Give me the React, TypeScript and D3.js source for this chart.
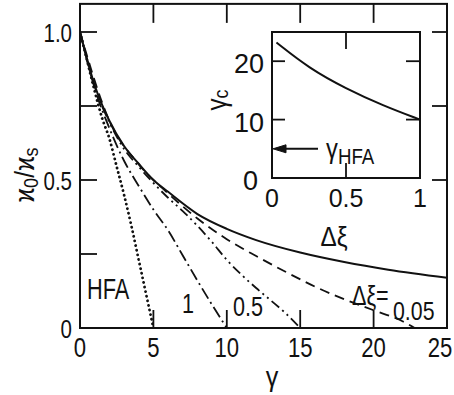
import React from "react";
import * as d3 from "d3";

// ---- data ----
const xTickValues = [0, 5, 10, 15, 20, 25];
const yTickValues = [0, 0.5, 1.0];
const yTickLabels = ["0", "0.5", "1.0"];
const yMinorTicks = [0.25, 0.75];

// solid curve (Δξ -> 0)
const solidGamma = [0, 1, 2, 3, 4, 5, 6, 8, 10, 12, 15, 18, 21, 25];
const solidRatio = [1, 0.82, 0.7, 0.615, 0.555, 0.5, 0.46, 0.385, 0.335, 0.297, 0.255, 0.223, 0.197, 0.17];

// Δξ = 0.05 (dashed)
const d005Gamma = [0, 2, 4, 6, 8, 10, 12, 14, 16, 18, 20, 22, 22.8];
const d005Ratio = [1, 0.7, 0.553, 0.455, 0.37, 0.3, 0.243, 0.19, 0.14, 0.097, 0.06, 0.022, 0];

// Δξ = 0.5 (dash-dot-dot)
const d05Gamma = [0, 1, 2, 3, 4, 5, 6, 7, 8, 9, 10, 11, 12, 13, 14, 15];
const d05Ratio = [1, 0.815, 0.695, 0.605, 0.545, 0.49, 0.44, 0.395, 0.345, 0.29, 0.23, 0.18, 0.135, 0.093, 0.05, 0];

// Δξ = 1 (dash-dot)
const d1Gamma = [0, 1, 2, 3, 4, 5, 6, 7, 8, 9, 10];
const d1Ratio = [1, 0.81, 0.675, 0.565, 0.48, 0.4, 0.33, 0.245, 0.16, 0.078, 0];

// HFA (dotted)
const hfaGamma = [0, 0.5, 1, 1.5, 2, 2.5, 3, 3.5, 4, 4.5, 5];
const hfaRatio = [1, 0.9, 0.8, 0.71, 0.64, 0.545, 0.45, 0.345, 0.23, 0.115, 0];

// inset: γc vs Δξ
const insetDxi = [0.03, 0.25, 0.5, 0.75, 1];
const insetGammaC = [23.2, 18.8, 15.3, 12.4, 10];
const insetXTicks = [0, 0.5, 1];
const insetXTickLabels = ["0", "0.5", "1"];
const insetYTicks = [0, 10, 20];
const gammaHFA = 5;

const FONT = "'Liberation Sans', Arial, sans-serif";
const INK = "#111";

function T({
  x,
  y,
  size,
  sx = 0.8,
  anchor = "start",
  rotate = 0,
  children,
}: {
  x: number;
  y: number;
  size: number;
  sx?: number;
  anchor?: string;
  rotate?: number;
  children: React.ReactNode;
}) {
  return (
    <text
      transform={`translate(${x},${y}) rotate(${rotate}) scale(${sx},1)`}
      fontSize={size}
      textAnchor={anchor as any}
      fill={INK}
    >
      {children}
    </text>
  );
}

export default function App() {
  const x = d3.scaleLinear().domain([0, 25]).range([80, 447]);
  const y = d3.scaleLinear().domain([0, 1]).range([328, 32]);
  const yTop = y(1.095);

  const ix = d3.scaleLinear().domain([0, 1]).range([272, 420]);
  const iy = d3.scaleLinear().domain([0, 25]).range([178, 32]);

  const line = d3
    .line<[number, number]>()
    .x((d) => x(d[0]))
    .y((d) => y(d[1]))
    .curve(d3.curveMonotoneX);

  const zip = (a: number[], b: number[]) => a.map((v, i) => [v, b[i]] as [number, number]);

  const insetLine = d3
    .line<[number, number]>()
    .x((d) => ix(d[0]))
    .y((d) => iy(d[1]))
    .curve(d3.curveBasis);

  return (
    <svg
      width={454}
      height={395}
      style={{ position: "absolute", left: 0, top: 0, background: "#fff" }}
      fontFamily={FONT}
    >
      <rect x={0} y={0} width={454} height={395} fill="#fff" />
      <defs>
        <clipPath id="plotClip">
          <rect x={x(0)} y={yTop} width={x(25) - x(0)} height={y(0) - yTop} />
        </clipPath>
      </defs>

      {/* curves */}
      <g clipPath="url(#plotClip)" fill="none" stroke={INK}>
        <path d={line(zip(solidGamma, solidRatio)) || ""} strokeWidth={2} />
        <path d={line(zip(d005Gamma, d005Ratio)) || ""} strokeWidth={1.8} strokeDasharray="10 6" />
        <path d={line(zip(d05Gamma, d05Ratio)) || ""} strokeWidth={1.8} strokeDasharray="10 4 2 4 2 4" />
        <path d={line(zip(d1Gamma, d1Ratio)) || ""} strokeWidth={1.8} strokeDasharray="12 4 2 4" />
        <path
          d={line(zip(hfaGamma, hfaRatio)) || ""}
          strokeWidth={2.8}
          strokeDasharray="0.1 4.6"
          strokeLinecap="round"
        />
      </g>

      {/* frame */}
      <rect
        x={x(0)}
        y={yTop}
        width={x(25) - x(0)}
        height={y(0) - yTop}
        fill="none"
        stroke={INK}
        strokeWidth={2}
      />

      {/* bottom & top ticks */}
      {xTickValues.slice(1, -1).map((v) => (
        <g key={"xt" + v} stroke={INK} strokeWidth={1.8}>
          <line x1={x(v)} x2={x(v)} y1={y(0)} y2={y(0) - 18} />
          <line x1={x(v)} x2={x(v)} y1={yTop} y2={yTop + 19} />
        </g>
      ))}
      {/* left & right ticks */}
      {[...yTickValues.slice(1), ...yMinorTicks].map((v) => (
        <g key={"yt" + v} stroke={INK} strokeWidth={1.8}>
          <line x1={x(0)} x2={x(0) + 17} y1={y(v)} y2={y(v)} />
          {v >= 0.5 && <line x1={x(25)} x2={x(25) - 15} y1={y(v)} y2={y(v)} />}
        </g>
      ))}

      {/* tick labels */}
      {xTickValues.map((v) => (
        <T key={"xl" + v} x={v === 25 ? x(v) - 7 : x(v)} y={357} size={27} sx={0.82} anchor="middle">
          {v}
        </T>
      ))}
      {yTickValues.map((v, i) => (
        <T key={"yl" + v} x={72} y={y(v) + 10} size={25} sx={0.82} anchor="end">
          {yTickLabels[i]}
        </T>
      ))}

      {/* axis titles */}
      <T x={272} y={386} size={28} sx={0.9} anchor="middle">
        γ
      </T>
      <T x={34} y={175} size={27} sx={0.9} anchor="middle" rotate={-90}>
        ϰ<tspan fontSize={20} dy={4}>0</tspan>
        <tspan dy={-4}>/ϰ</tspan>
        <tspan fontSize={20} dy={4}>s</tspan>
      </T>

      {/* curve labels */}
      <T x={87} y={299} size={29} sx={0.75}>
        HFA
      </T>
      <T x={182} y={313} size={27} sx={0.8}>
        1
      </T>
      <T x={233} y={316} size={27} sx={0.8}>
        0.5
      </T>
      <T x={352} y={305} size={27} sx={0.8}>
        Δξ=
      </T>
      <T x={393} y={320} size={26} sx={0.82}>
        0.05
      </T>

      {/* inset */}
      <rect
        x={ix(0)}
        y={iy(25)}
        width={ix(1) - ix(0)}
        height={iy(0) - iy(25)}
        fill="#fff"
        stroke={INK}
        strokeWidth={2}
      />
      <path d={insetLine(zip(insetDxi, insetGammaC)) || ""} fill="none" stroke={INK} strokeWidth={2} />
      {insetYTicks.slice(1).map((v) => (
        <g key={"iyt" + v} stroke={INK} strokeWidth={1.8}>
          <line x1={ix(0)} x2={ix(0) + 13} y1={iy(v)} y2={iy(v)} />
          <line x1={ix(1)} x2={ix(1) - 14} y1={iy(v)} y2={iy(v)} />
        </g>
      ))}
      <g stroke={INK} strokeWidth={1.8}>
        <line x1={ix(0.5)} x2={ix(0.5)} y1={iy(25)} y2={iy(25) + 17} />
        <line x1={ix(0.5)} x2={ix(0.5)} y1={iy(0)} y2={iy(0) - 15} />
      </g>
      {insetYTicks.map((v) => (
        <T key={"iyl" + v} x={v === 0 ? 258 : 264} y={iy(v) + 12} size={27} sx={1} anchor="end">
          {v}
        </T>
      ))}
      {insetXTicks.map((v, i) => (
        <T key={"ixl" + v} x={ix(v)} y={207} size={25} sx={1} anchor="middle">
          {insetXTickLabels[i]}
        </T>
      ))}
      <T x={334} y={246} size={27} sx={0.9} anchor="middle">
        Δξ
      </T>
      <T x={226} y={100} size={27} sx={0.9} anchor="middle" rotate={-90}>
        γ<tspan fontSize={20} dy={2}>c</tspan>
      </T>

      {/* γ_HFA arrow */}
      <line x1={318} x2={ix(0) + 10} y1={iy(gammaHFA)} y2={iy(gammaHFA)} stroke={INK} strokeWidth={2} />
      <path d={`M${ix(0) + 1},${iy(gammaHFA)} l13,-4 l0,8 z`} fill={INK} stroke={INK} />
      <T x={326} y={158} size={28} sx={0.85}>
        γ<tspan fontSize={22} dy={6}>HFA</tspan>
      </T>
    </svg>
  );
}
